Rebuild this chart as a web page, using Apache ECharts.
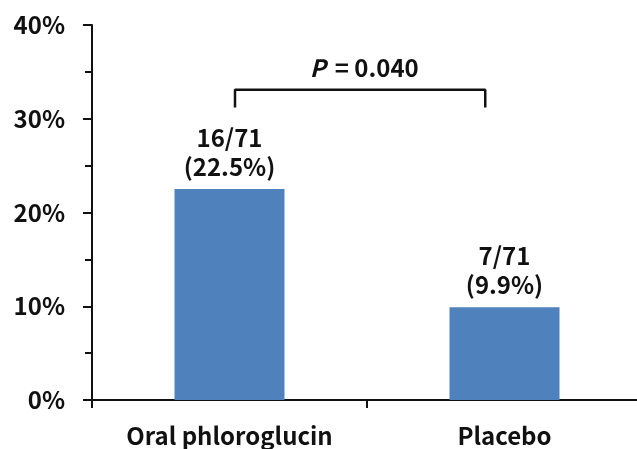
<!DOCTYPE html>
<html>
<head>
<meta charset="utf-8">
<script src="https://cdn.jsdelivr.net/npm/echarts@6/dist/echarts.min.js"></script>
<style>
  html, body { margin: 0; padding: 0; background: #fff; }
  #chart { width: 637px; height: 449px; }
</style>
</head>
<body>
<div id="chart"></div>
<script>
// chart data
const groups = ['Oral phloroglucin', 'Placebo'];
const rates = [22.5, 9.9];
const counts = ['16/71', '7/71'];
const yTicks = [0, 10, 20, 30, 40];

// significance bracket, on a hidden 0..2 value axis laid over the categories
const bracketX = [0.52, 0.52, 1.43, 1.43];
const bracketY = [31.2, 33.1, 33.1, 31.2];
const pText = ['P', '= 0.040'];
const pPos = [0.99, 35.4];

const FONT = '"Noto Sans CJK KR", "Noto Sans", sans-serif';

let chart = echarts.init(document.getElementById('chart'));

let option = {
    animation: false,
    grid: { left: 92, top: 25, bottom: 49, width: 550, outerBoundsMode: 'none' },
    xAxis: [
        {
            type: 'category',
            data: groups,
            axisLine: { lineStyle: { color: '#111', width: 2 } },
            axisTick: { show: true, length: 8, lineStyle: { color: '#111', width: 2 } },
            axisLabel: {
                color: '#111', fontFamily: FONT, fontWeight: 'bold',
                fontSize: 24, margin: 24
            }
        },
        { type: 'value', min: 0, max: 2, show: false }
    ],
    yAxis: {
        type: 'value',
        min: yTicks[0],
        max: yTicks[yTicks.length - 1],
        interval: 10,
        axisLine: { show: true, lineStyle: { color: '#111', width: 2 } },
        axisTick: { show: true, length: 9, lineStyle: { color: '#111', width: 2 } },
        minorTick: { show: true, splitNumber: 2, length: 7, lineStyle: { color: '#111', width: 2 } },
        splitLine: { show: false },
        axisLabel: {
            color: '#111', fontFamily: FONT, fontWeight: 'bold', fontSize: 24, margin: 27,
            formatter: v => v + '%'
        }
    },
    series: [
        {
            type: 'bar',
            barWidth: '40%',
            itemStyle: { color: '#4F81BD' },
            data: rates,
            label: {
                show: true,
                position: 'top',
                distance: 8,
                formatter: p => '{a|' + counts[p.dataIndex] + '}\n{b|(' + p.value + '%)}',
                rich: {
                    a: { fontFamily: FONT, fontWeight: 'bold', fontSize: 24, color: '#111', lineHeight: 29 },
                    b: { fontFamily: FONT, fontWeight: 'bold', fontSize: 24, color: '#111', lineHeight: 29 }
                }
            }
        },
        {
            type: 'line',
            xAxisIndex: 1,
            symbol: 'none',
            lineStyle: { color: '#111', width: 2.5 },
            data: bracketX.map((x, i) => [x, bracketY[i]]),
            z: 5
        },
        {
            type: 'scatter',
            xAxisIndex: 1,
            symbolSize: 0,
            itemStyle: { opacity: 1 },
            data: [pPos],
            label: {
                show: true,
                position: 'inside',
                color: '#111',
                formatter: '{i|' + pText[0] + '}{n|' + pText[1] + '}',
                rich: {
                    i: { fontFamily: FONT, fontWeight: 'bold', fontStyle: 'italic', fontSize: 24, color: '#111', padding: [0, 9, 0, 0] },
                    n: { fontFamily: FONT, fontWeight: 'bold', fontSize: 24, color: '#111' }
                }
            }
        }
    ]
};

chart.setOption(option);
</script>
</body>
</html>
